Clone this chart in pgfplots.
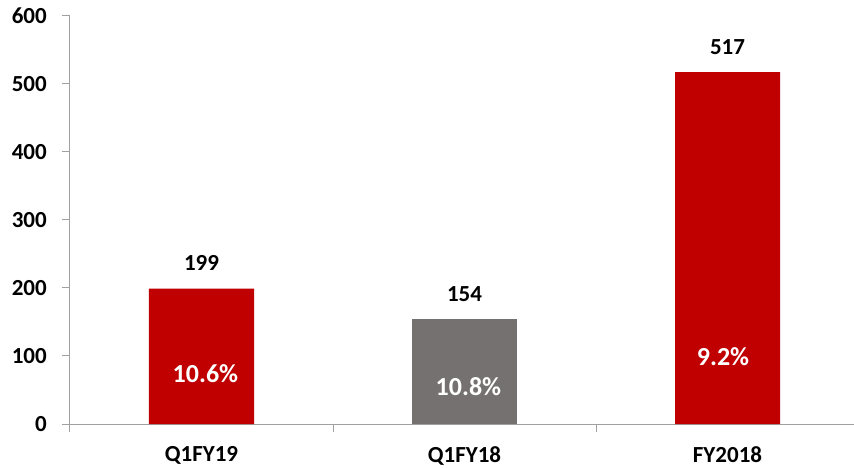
\documentclass[border=0pt]{standalone}
\usepackage{fontspec}
\setmainfont{Carlito}
\usepackage{pgfplots}
\pgfplotsset{compat=1.18}
\definecolor{BarRed}{HTML}{C00000}
\definecolor{BarGray}{HTML}{767171}
\definecolor{AxisGray}{HTML}{A0A0A0}
\begin{document}
\begin{tikzpicture}
\useasboundingbox (0,0) rectangle (854pt,467pt);
\begin{axis}[
    at={(70pt,43pt)}, anchor=south west,
    scale only axis,
    width=789pt, height=408.5pt,
    xmin=-0.5, xmax=2.5,
    ymin=0, ymax=600,
    axis lines*=left,
    axis line style={AxisGray, line width=1pt},
    xtick={-0.5,0.5,1.5,2.5},
    x tick label as interval,
    xticklabels={Q1FY19,Q1FY18,FY2018},
    ytick={0,100,...,600},
    tick align=outside,
    major tick length=7.5pt,
    tick style={AxisGray, line width=1pt},
    xticklabel style={font=\fontsize{23}{27}\selectfont\bfseries, inner sep=0pt, yshift=-15pt},
    yticklabel style={font=\fontsize{23}{27}\selectfont\bfseries, inner sep=0pt, xshift=-15.5pt},
    /pgf/number format/assume math mode=true,
    clip=false,
]
\addplot[ybar, bar width=105pt, bar shift=0pt, fill=BarRed, draw=none,
    nodes near coords, point meta=explicit symbolic,
    every node near coord/.style={font=\fontsize{23}{27}\selectfont\bfseries, inner sep=0pt, anchor=south, yshift=17.6pt, text=black}]
    coordinates {(0,199)[199] (2,517)[517]};
\addplot[ybar, bar width=105pt, bar shift=0pt, fill=BarGray, draw=none,
    nodes near coords, point meta=explicit symbolic,
    every node near coord/.style={font=\fontsize{23}{27}\selectfont\bfseries, inner sep=0pt, anchor=south, yshift=17.6pt, text=black}]
    coordinates {(1,154)[154]};
\addplot[draw=none, mark=none,
    nodes near coords, point meta=explicit symbolic,
    every node near coord/.style={font=\fontsize{26}{30}\selectfont\bfseries, inner sep=0pt, anchor=center, text=white}]
    coordinates {(0.015,74.5)[10.6\%] (1.015,54.8)[10.8\%] (1.983,98.9)[9.2\%]};
\end{axis}
\end{tikzpicture}
\end{document}
